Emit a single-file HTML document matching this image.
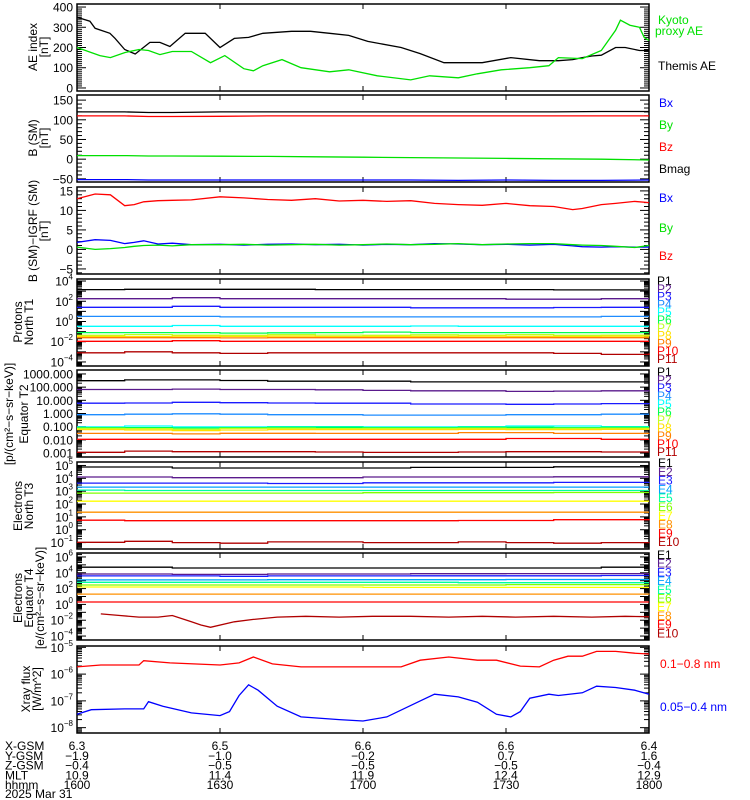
<!DOCTYPE html>
<html><head><meta charset="utf-8">
<style>
html,body{margin:0;padding:0;background:#fff;}
svg{display:block;font-family:"Liberation Sans",sans-serif;}
text{font-size:12px;}
</style></head>
<body>
<svg id="chart" width="750" height="800" viewBox="0 0 750 800" xmlns="http://www.w3.org/2000/svg"></svg>
<script>
// ---------- DATA ----------
const aeTimes   = [0,2.7,3.8,6.9,8,10,12.2,15.3,17.4,19.5,22.7,26.9,30,33,36,39,45,49,53,57,61,68,72,77,85,91,97,101,104,106,108,110,113,115,118,120];
const themisAE  = [350,330,295,270,245,190,168,225,225,205,270,270,200,245,250,270,280,280,270,260,230,200,170,125,125,150,135,135,140,150,158,162,200,200,185,185];
const kyotoTimes= [0,4.8,7,10,13,15,17.4,20,24,28,31,35,37,39,43,47,53,57,63,70,74,80,84,89,95,99,101,106,110,113,114,116,118,119,120];
const kyotoAE   = [200,160,150,175,190,185,165,180,180,125,160,95,85,110,140,100,80,90,60,40,60,50,70,90,100,110,150,145,185,285,335,310,300,250,235];

const bTimes = [0,10,15,20,30,40,50,60,70,80,90,100,110,120];
const bmag   = [120,120,118.5,118.5,120,120,120,120,120,120,120,120,121,121];
const bz     = [110,110,108.5,108.5,109,110,110,110,110,110,110,110,110,110];
const by     = [9,9,8,8,7.5,7,6,5,4,3,2,1,0,-2];
const bx     = [-52,-52,-53,-53,-53,-53,-53,-53,-53,-54,-53,-54,-54,-53];

const dTimes = [0,3.8,7,10,12,14,17,20,24,30,35,40,45,50,55,60,65,70,75,80,85,90,95,100,104,106,110,113,117,120];
const dBz    = [13,14.2,14,11.2,11.5,12.2,12.5,12.6,12.7,13.5,13.2,12.8,12.6,13,12.4,12.6,12.3,12.5,11.8,11.5,11.3,11.8,11.2,11,10.2,10.5,11.5,11.8,12.3,12];
const dBx    = [1.8,2.5,2.3,1.5,1.8,2.2,1.4,1.6,1.2,1.3,1.1,1.3,1.4,1.2,1.3,1.1,1.3,1.2,1.5,1.4,1.2,1.3,1.1,1.3,0.9,0.7,0.6,0.7,0.6,0.6];
const dBy    = [0.6,0,0.2,0.5,0.8,1,1.1,0.9,1.2,1.2,1.3,1.1,1.2,1.3,1.1,1.2,1.4,1.2,1.3,1.5,1.2,1.4,1.5,1.5,1.2,1.1,1,0.8,0.5,1];

const stepTimes = [0,10,20,30,40,50,60,70,80,90,100,110,120];
const pNorthLog = [
 [3.15,3.18,3.18,3.18,3.18,3.15,3.15,3.15,3.15,3.15,3.12,3.12,3.12],
 [2.25,2.25,2.35,2.25,2.25,2.25,2.25,2.25,2.25,2.2,2.2,2.25,2.25],
 [1.4,1.4,1.5,1.4,1.4,1.4,1.4,1.35,1.35,1.35,1.38,1.4,1.4],
 [0.5,0.5,0.5,0.45,0.45,0.45,0.45,0.45,0.45,0.45,0.45,0.5,0.5],
 [-0.48,-0.48,-0.4,-0.48,-0.48,-0.48,-0.48,-0.45,-0.48,-0.48,-0.48,-0.48,-0.48],
 [-1.1,-1.1,-1.1,-1.15,-1.12,-1.1,-1.05,-1.1,-1.1,-1.1,-1.1,-1.1,-1.1],
 [-1.37,-1.3,-1.35,-1.37,-1.3,-1.35,-1.37,-1.32,-1.35,-1.3,-1.37,-1.35,-1.3],
 [-1.47,-1.5,-1.45,-1.47,-1.45,-1.5,-1.47,-1.47,-1.45,-1.47,-1.5,-1.45,-1.47],
 [-1.6,-1.6,-1.6,-1.62,-1.6,-1.6,-1.6,-1.6,-1.6,-1.6,-1.6,-1.6,-1.6],
 [-1.96,-1.96,-1.9,-1.96,-1.96,-1.96,-1.96,-1.96,-1.96,-1.96,-1.96,-1.96,-1.96],
 [-3.1,-3.0,-3.1,-3.15,-3.1,-3.1,-3.1,-3.1,-3.1,-3.1,-3.15,-3.25,-3.15]];
const pEqLog = [
 [2.49,2.55,2.55,2.5,2.45,2.45,2.45,2.4,2.4,2.4,2.4,2.4,2.42],
 [1.82,1.82,1.85,1.82,1.82,1.8,1.75,1.72,1.72,1.68,1.7,1.72,1.75],
 [0.78,0.8,0.85,0.82,0.8,0.78,0.78,0.72,0.72,0.7,0.72,0.75,0.8],
 [-0.09,-0.05,-0.02,-0.05,-0.09,-0.09,-0.12,-0.12,-0.12,-0.09,-0.09,-0.05,-0.05],
 [-1.02,-0.95,-1.02,-1.02,-1.0,-1.0,-1.02,-1.02,-1.0,-0.95,-0.95,-1.0,-1.0],
 [-1.07,-1.07,-1.1,-1.07,-1.05,-1.05,-1.07,-1.07,-1.05,-1.05,-1.07,-1.05,-1.05],
 [-1.13,-1.15,-1.2,-1.13,-1.12,-1.15,-1.13,-1.13,-1.12,-1.15,-1.13,-1.12,-1.13],
 [-1.22,-1.25,-1.3,-1.25,-1.22,-1.22,-1.22,-1.22,-1.2,-1.22,-1.22,-1.2,-1.22],
 [-1.51,-1.51,-1.55,-1.5,-1.5,-1.51,-1.51,-1.51,-1.45,-1.45,-1.51,-1.51,-1.5],
 [-1.96,-1.96,-1.96,-1.96,-1.96,-1.96,-1.96,-1.96,-1.96,-1.9,-1.9,-1.96,-1.96],
 [-2.94,-2.85,-2.9,-2.9,-2.9,-2.92,-2.95,-2.95,-2.92,-2.9,-2.9,-2.92,-2.92]];
const eNorthLog = [
 [4.88,4.88,4.8,4.8,4.8,4.8,4.8,4.85,4.85,4.85,4.9,4.9,4.9],
 [4.1,4.1,4.05,4.05,4.05,4.05,4.1,4.1,4.1,4.1,4.12,4.12,4.12],
 [3.63,3.63,3.63,3.63,3.6,3.6,3.65,3.65,3.65,3.65,3.68,3.68,3.7],
 [3.32,3.32,3.32,3.32,3.32,3.32,3.32,3.32,3.32,3.32,3.32,3.32,3.32],
 [3.08,3.05,3.05,3.05,3.05,3.05,3.05,3.05,3.05,3.05,3.05,3.05,3.05],
 [2.85,2.85,2.85,2.85,2.85,2.85,2.88,2.88,2.88,2.88,2.9,2.9,2.9],
 [2.22,2.22,2.22,2.22,2.22,2.22,2.22,2.22,2.22,2.22,2.22,2.22,2.22],
 [1.36,1.36,1.36,1.36,1.36,1.36,1.36,1.36,1.36,1.36,1.36,1.36,1.36],
 [0.74,0.7,0.7,0.7,0.7,0.7,0.7,0.7,0.72,0.72,0.78,0.78,0.74],
 [-0.98,-0.9,-1.0,-1.05,-0.95,-0.95,-1.0,-1.0,-0.95,-1.0,-1.05,-1.0,-0.98]];
const eEqLog = [
 [4.7,4.7,4.6,4.6,4.6,4.6,4.6,4.6,4.6,4.6,4.6,4.7,4.7],
 [3.85,3.85,3.8,3.8,3.85,3.85,3.85,3.88,3.88,3.9,3.9,3.9,3.9],
 [3.6,3.6,3.6,3.55,3.6,3.6,3.6,3.62,3.62,3.62,3.62,3.65,3.65],
 [3.1,3.1,3.1,3.1,3.12,3.12,3.12,3.12,3.12,3.15,3.15,3.15,3.15],
 [2.8,2.8,2.8,2.8,2.8,2.8,2.8,2.8,2.75,2.75,2.75,2.75,2.75],
 [2.45,2.45,2.45,2.45,2.45,2.45,2.45,2.45,2.45,2.5,2.5,2.5,2.5],
 [2.2,2.2,2.2,2.2,2.2,2.2,2.15,2.15,2.15,2.15,2.15,2.15,2.15],
 [1.3,1.3,1.3,1.3,1.3,1.3,1.3,1.3,1.3,1.3,1.3,1.3,1.25],
 [0.3,0.3,0.3,0.3,0.3,0.3,0.3,0.3,0.3,0.3,0.3,0.3,0.3]];
const e10Times = [5,9,13,17,20,24,26,28,33,37,42,48,55,62,70,78,85,92,100,108,115,120];
const e10Log   = [-1.2,-1.4,-1.6,-1.6,-1.4,-2.2,-2.6,-2.9,-2.2,-1.9,-1.6,-1.5,-1.6,-1.5,-1.5,-1.6,-1.5,-1.6,-1.5,-1.6,-1.5,-1.55];

const xrTimes = [0,5,13,14,19.5,30,34,37,41,47,68,72,78,84,88,93,97,100,103,106,109,113,117,120];
const xrLong  = [-5.73,-5.66,-5.66,-5.5,-5.58,-5.66,-5.58,-5.36,-5.62,-5.73,-5.73,-5.48,-5.36,-5.48,-5.48,-5.7,-5.73,-5.48,-5.33,-5.33,-5.15,-5.15,-5.22,-5.25];
const xrShortT= [0,3,10,14,15,18,24,30,32,34,36,38,42,47,55,60,65,72,75,80,84,88,91,93,95,99,101,106,109,113,117,120];
const xrShort = [-7.5,-7.33,-7.3,-7.3,-7.03,-7.2,-7.45,-7.55,-7.4,-6.8,-6.4,-6.6,-7.2,-7.6,-7.7,-7.75,-7.6,-7.0,-6.75,-6.85,-7.05,-7.5,-7.6,-7.4,-6.9,-6.75,-6.8,-6.7,-6.45,-6.5,-6.6,-6.75];

const protonColors = ['#000000','#5a1a8c','#1a1aff','#1e8cff','#00ffff','#00ff50','#c0ff20','#ffe000','#ff8000','#ff0000','#b00000'];
const electronColors = ['#000000','#5a1a8c','#1a1aff','#00a0ff','#00ffa0','#80ff00','#ffff00','#ff9000','#ff0000','#b00000'];
const orbitRowNames = ['X-GSM','Y-GSM','Z-GSM','MLT','hhmm'];
const orbitValues = [['6.3','6.5','6.6','6.6','6.4'],['\u22121.9','\u22121.0','\u22120.2','0.7','1.6'],['\u22120.4','\u22120.5','\u22120.5','\u22120.5','\u22120.4'],['10.9','11.4','11.9','12.4','12.9'],['1600','1630','1700','1730','1800']];
const timeTicks = [0,30,60,90,120];

// ---------- DRAWING ----------
const svg = document.getElementById('chart');
const NS = 'http://www.w3.org/2000/svg';
const X0 = 77, X1 = 649, H = 87;
function xS(t){ return X0 + t/120*(X1-X0); }
function mk(tag, attrs, parent){ const e=document.createElementNS(NS,tag); for(const k in attrs) e.setAttribute(k,attrs[k]); (parent||svg).appendChild(e); return e; }
function txt(x,y,s,opts,parent){ const e=mk('text',Object.assign({x:x,y:y},opts||{}),parent); e.textContent=s; return e; }

function makePanel(name, top, lo, hi){
  const g = mk('g',{});
  
  
  const y = v => top + (hi - v)/(hi - lo)*H;
  const box = mk('rect',{x:X0,y:top,width:X1-X0,height:H,fill:'none',stroke:'#000','stroke-width':1.5},g);
  
  
  timeTicks.forEach(t=>{ if(t>0&&t<120){ mk('line',{x1:xS(t),x2:xS(t),y1:top,y2:top+5,stroke:'#000'},g); mk('line',{x1:xS(t),x2:xS(t),y1:top+H,y2:top+H-5,stroke:'#000'},g);} });
  return {g, y, top};
}
function yTick(p, yy, len){
  if(yy < p.top-0.5 || yy > p.top+H+0.5) return;
  mk('line',{x1:X0,x2:X0+len,y1:yy,y2:yy,stroke:'#000'},p.g);
  mk('line',{x1:X1,x2:X1-len,y1:yy,y2:yy,stroke:'#000'},p.g);
}
function linTicks(p, lo, hi, major, minor, labels){
  for(let v=Math.ceil(lo/minor)*minor; v<=hi; v+=minor){ const isMaj = Math.abs(v/major-Math.round(v/major))<1e-6; yTick(p,p.y(v),isMaj?9:5); }
  labels.forEach(v=>{ const t=txt(73,p.y(v)+4.5,String(v).replace('-','\u2212'),{'text-anchor':'end'},p.g);
    
     });
}
function logTicks(p, lo, hi, labels, fmt){
  for(let d=Math.floor(lo); d<=Math.ceil(hi); d++){
    for(let i=1;i<10;i++){ const v=d+Math.log10(i); if(v>=lo&&v<=hi) yTick(p,p.y(v),i===1?9:5); }
  }
  labels.forEach(d=>{
    const yy=p.y(d)+4.5;
    if(fmt==='dec'){ const t=txt(73,yy,Math.pow(10,d).toFixed(3),{'text-anchor':'end'},p.g);
      
       }
    else { const t=mk('text',{x:73,y:yy,'text-anchor':'end'},p.g);
      
      
      t.textContent='10';
      const s=mk('tspan',{dy:-6,'font-size':'8px'},t); s.textContent=String(d).replace('-','\u2212'); }
  });
}
function line(p, times, vals, color, name, step){
  let pts=[];
  for(let i=0;i<times.length;i++){
    pts.push(xS(times[i]).toFixed(1)+','+p.y(vals[i]).toFixed(1));
    if(step && i<times.length-1) pts.push(xS(times[i+1]).toFixed(1)+','+p.y(vals[i]).toFixed(1));
  }
  const e=mk('polyline',{points:pts.join(' '),fill:'none',stroke:color,'stroke-width':1.3},p.g);
  
  
}
function ylabel(lines, cx, cy){
  lines.forEach((s,i)=>{ const t=txt(0,0,s,{'text-anchor':'middle',transform:'translate('+(cx[i])+','+cy+') rotate(-90)'});
    
     });
}
function legend(s, x, y, color, fs){
  const t=txt(x,y,s,{fill:color,'font-size':(fs||12)+'px'});
  
  
}

// Panel 1 AE
let p = makePanel('ae-index-panel', 4, -15, 415);
linTicks(p,0,400,100,10,[0,100,200,300,400]);
line(p, aeTimes, themisAE, '#000', 'themis-ae-line');
line(p, kyotoTimes, kyotoAE, '#00e000', 'kyoto-ae-line');
ylabel(['AE index','[nT]'],[37,48],47);
legend('Kyoto',658,24,'#00e000'); legend('proxy AE',655,35,'#00e000'); legend('Themis AE',658,70,'#000');

// Panel 2 B SM
p = makePanel('b-sm-panel', 95, -58, 163);
linTicks(p,-50,150,50,10,[-50,0,50,100,150]);
line(p,bTimes,bmag,'#000','bmag-line'); line(p,bTimes,bz,'#ff0000','bz-line');
line(p,bTimes,by,'#00e000','by-line'); line(p,bTimes,bx,'#0000ff','bx-line');
ylabel(['B (SM)','[nT]'],[37,48],138);
legend('Bx',659,107,'#0000ff'); legend('By',659,129,'#00e000'); legend('Bz',659,151,'#ff0000'); legend('Bmag',659,173,'#000');

// Panel 3 B - IGRF
p = makePanel('b-minus-igrf-panel', 187, -6.3, 16);
linTicks(p,-6,16,5,1,[-5,0,5,10,15]);
line(p,dTimes,dBz,'#ff0000','dbz-line'); line(p,dTimes,dBx,'#0000ff','dbx-line'); line(p,dTimes,dBy,'#00e000','dby-line');
ylabel(['B (SM)\u2212IGRF (SM)','[nT]'],[37,48],231);
legend('Bx',659,202,'#0000ff'); legend('By',659,232,'#00e000'); legend('Bz',659,260,'#ff0000');

// Panel 4 protons north
p = makePanel('protons-north-panel', 279, -4.4, 4.2);
logTicks(p,-4.4,4.2,[4,2,0,-2,-4],'sup');
pNorthLog.forEach((v,i)=>line(p,stepTimes,v,protonColors[i],'proton-north-P'+(i+1),true));
ylabel(['Protons','North T1'],[22,33],322);
protonColors.forEach((c,i)=>legend('P'+(i+1),657,285+i*7.8,c,10));

// Panel 5 protons equator
p = makePanel('protons-equator-panel', 370, -3.3, 3.3);
logTicks(p,-3.3,3.3,[3,2,1,0,-1,-2,-3],'dec');
pEqLog.forEach((v,i)=>line(p,stepTimes,v,protonColors[i],'proton-eq-P'+(i+1),true));
ylabel(['Equator T2','[p/(cm\u00b2\u2212s\u2212sr\u2212keV)]'],[28,13],414);
protonColors.forEach((c,i)=>legend('P'+(i+1),657,376+i*8,c,10));

// Panel 6 electrons north
p = makePanel('electrons-north-panel', 462, -1.5, 5.27);
logTicks(p,-1.5,5.27,[5,4,3,2,1,0,-1],'sup');
eNorthLog.forEach((v,i)=>line(p,stepTimes,v,electronColors[i],'electron-north-E'+(i+1),true));
ylabel(['Electrons','North T3'],[22,33],506);
electronColors.forEach((c,i)=>legend('E'+(i+1),658,467+i*8.8,c,10));

// Panel 7 electrons equator
p = makePanel('electrons-equator-panel', 553, -4.5, 6.5);
logTicks(p,-4.5,6.5,[6,4,2,0,-2,-4],'sup');
eEqLog.forEach((v,i)=>line(p,stepTimes,v,electronColors[i],'electron-eq-E'+(i+1),true));
line(p,e10Times,e10Log,electronColors[9],'electron-eq-E10');
ylabel(['Electrons','Equator T4','[e/(cm\u00b2\u2212s\u2212sr\u2212keV)]'],[22,33,44],598);
electronColors.forEach((c,i)=>legend('E'+(i+1),657,559+i*8.7,c,10));

// Panel 8 xray
p = makePanel('xray-flux-panel', 646, -8.2, -4.95);
logTicks(p,-8.2,-4.95,[-5,-6,-7,-8],'sup');
line(p,xrTimes,xrLong,'#ff0000','xray-long-line');
line(p,xrShortT,xrShort,'#0000ff','xray-short-line');
ylabel(['Xray flux','[W/m^2]'],[30,41],689);
legend('0.1\u22120.8 nm',660,668,'#ff0000'); legend('0.05\u22120.4 nm',660,711,'#0000ff');

// Orbit rows
orbitRowNames.forEach((n,r)=>{
  const yy=750+r*9.8;
  const l=txt(5,yy,n,{});
  
  
  orbitValues[r].forEach((v,i)=>{ const t=txt(xS(timeTicks[i]),yy,v,{'text-anchor':'middle'});
    
     });
});
const d=txt(5,798,'2025 Mar 31',{});


</script>
</body></html>
